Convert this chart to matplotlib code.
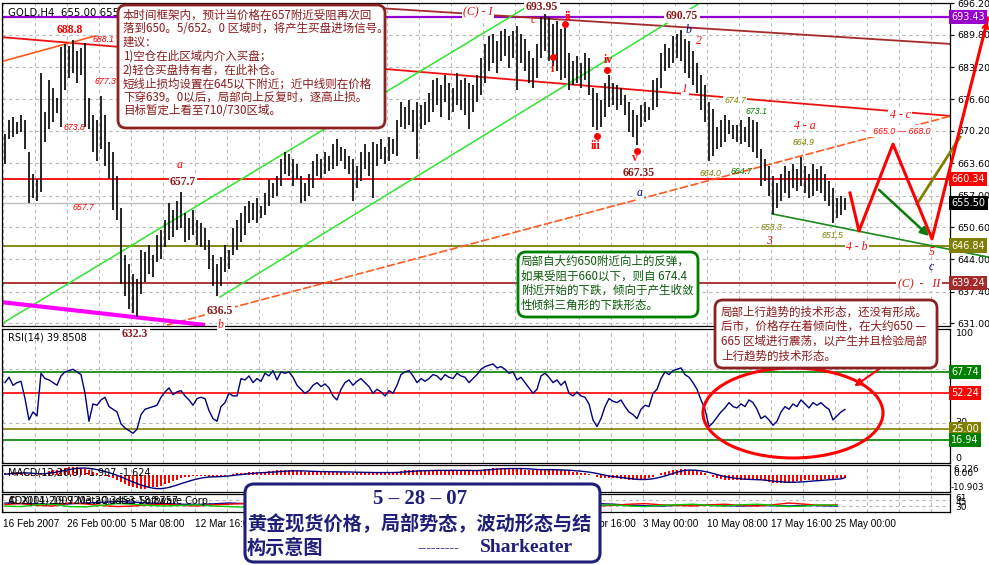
import numpy as np
import matplotlib
matplotlib.use("Agg")
import matplotlib.pyplot as plt
from matplotlib.patches import FancyBboxPatch, Ellipse
from matplotlib.transforms import IdentityTransform

# ---------------- data ----------------
# GOLD H4 bars: highs and lows, one value per bar
bar_high = [
    669.5, 672.5, 673.0, 672.0, 673.5, 672.5, 666.0, 661.5, 660.5, 682.0,
    674.0, 680.5, 679.0, 677.0, 687.3, 688.0, 687.5, 688.8, 686.5, 687.0,
    688.1, 677.0, 673.5, 672.5, 677.3, 673.5, 668.0, 666.0, 661.0, 654.5,
    645.0, 643.0, 641.0, 640.0, 646.0, 645.5, 647.0, 645.0, 649.0, 650.0,
    652.0, 655.5, 654.0, 656.0, 657.7, 653.5, 652.5, 654.0, 652.0, 651.5,
    650.5, 648.0, 645.0, 643.0, 644.5, 647.0, 646.0, 650.5, 652.0, 653.5,
    655.0, 656.0, 655.5, 656.5, 655.0, 657.5, 660.5, 659.5, 661.0, 664.5,
    666.0, 665.5, 664.5, 663.5, 661.0, 659.5, 661.5, 664.0, 665.5, 664.5,
    666.0, 665.0, 667.5, 668.5, 667.0, 666.5, 665.0, 664.5, 663.0, 666.0,
    667.5, 666.0, 668.0, 667.5, 668.5, 667.0, 669.0, 668.5, 672.5, 676.0,
    675.0, 676.5, 674.5, 676.0, 675.5, 676.0, 678.0, 680.5, 681.0, 679.5,
    681.5, 680.0, 679.0, 682.0, 680.5, 681.0, 680.0, 679.5, 681.5, 685.0,
    688.0, 689.5, 690.0, 688.5, 690.5, 691.0, 689.5, 690.5, 691.5, 690.0,
    689.0, 686.5, 685.0, 688.0, 693.5, 693.95, 693.5, 692.0, 692.5, 691.0,
    692.0, 686.0, 684.5, 685.5, 684.0, 686.0, 685.0, 679.0, 678.0, 676.5,
    680.0, 681.5, 680.0, 679.5, 679.0, 677.5, 676.0, 674.5, 673.5, 675.5,
    676.0, 675.0, 680.5, 681.0, 686.0, 688.0, 687.0, 689.5, 690.0, 690.75,
    689.0, 688.5, 686.5, 684.0, 681.5, 679.5, 676.0, 674.7, 671.0, 672.5,
    673.5, 672.5, 671.5, 671.5, 672.5, 671.0, 673.1, 672.5, 672.0, 666.5,
    664.5, 663.0, 661.0, 659.5, 661.5, 663.0, 662.0, 663.5, 662.5, 664.9,
    663.0, 661.5, 663.5, 662.5, 663.0, 661.5, 660.0, 658.5, 656.5, 657.0,
    656.5,
]
bar_low = [
    663.5, 668.5, 669.0, 669.5, 670.0, 666.5, 655.5, 656.5, 656.0, 657.7,
    668.0, 670.5, 672.0, 673.8, 671.0, 678.5, 681.0, 682.0, 680.0, 681.5,
    671.0, 670.5, 666.0, 664.0, 666.5, 663.0, 660.5, 654.0, 652.0, 639.0,
    636.5, 634.0, 633.0, 632.3, 637.0, 639.5, 641.0, 640.5, 643.5, 644.0,
    646.5, 648.0, 648.5, 650.0, 650.5, 647.5, 648.0, 649.0, 647.0, 646.5,
    646.0, 642.0, 638.5, 636.5, 638.5, 641.5, 642.0, 645.0, 646.0, 647.5,
    649.0, 651.5, 652.0, 651.5, 652.5, 653.0, 655.0, 656.5, 657.0, 659.0,
    661.5, 661.0, 659.0, 660.5, 655.5, 656.0, 657.0, 658.5, 661.0, 660.5,
    661.5, 662.0, 662.5, 663.0, 664.0, 662.5, 661.5, 656.0, 658.5, 660.0,
    662.5, 661.0, 656.5, 663.0, 664.5, 663.5, 664.0, 665.5, 665.0, 671.0,
    670.5, 671.5, 670.0, 664.5, 670.5, 671.5, 672.0, 674.0, 675.5, 673.0,
    676.0, 672.5, 674.0, 675.5, 674.5, 673.5, 670.5, 674.0, 676.0, 677.5,
    680.0, 682.5, 684.0, 682.0, 684.5, 685.5, 683.0, 685.0, 678.5, 684.0,
    682.5, 680.0, 679.0, 681.0, 685.0, 686.5, 684.5, 683.5, 682.5, 680.5,
    681.0, 678.5, 679.5, 680.0, 679.0, 680.5, 677.5, 671.0, 670.3, 671.0,
    673.0, 675.0, 675.5, 674.5, 675.5, 673.5, 670.0, 669.0, 667.35, 671.0,
    672.0, 672.5, 674.5, 675.0, 679.0, 682.5, 683.0, 684.0, 685.0, 684.5,
    682.0, 681.0, 679.5, 678.0, 674.5, 672.0, 664.0, 665.0, 666.5, 667.0,
    668.0, 669.5, 668.5, 668.0, 667.5, 668.0, 667.0, 666.0, 664.7, 659.0,
    660.0, 657.0, 653.3, 654.5, 656.0, 657.5, 656.5, 658.5, 658.0, 659.0,
    657.5, 656.5, 657.0, 658.0, 657.5, 656.0, 655.0, 651.5, 652.5, 653.0,
    654.0,
]
rsi14 = [
    60, 64, 58, 60, 61, 48, 32, 38, 35, 67,
    63, 62, 60, 58, 65, 68, 69, 70, 68, 66,
    52, 31, 44, 43, 47, 49, 42, 40, 38, 29,
    26, 24, 22, 25, 36, 40, 41, 42, 43, 49,
    53, 56, 51, 53, 54, 50, 47, 43, 48, 49,
    48, 39, 33, 31, 42, 45, 52, 50, 50, 63,
    62, 65, 60, 63, 61, 67, 65, 69, 62, 68,
    67, 68, 64, 58, 55, 52, 54, 58, 60, 57,
    59, 56, 50, 47, 55, 60, 62, 58, 61, 63,
    60, 57, 52, 55, 53, 50, 54, 52, 58, 66,
    68, 69, 65, 60, 63, 61, 63, 66, 65, 62,
    66, 64, 63, 67, 65, 64, 60, 63, 66, 70,
    72, 73, 74, 71, 72, 70, 67, 68, 62, 64,
    60, 56, 52, 55, 65, 67, 64, 60, 62, 58,
    61, 52, 50, 53, 50, 49, 44, 32, 27, 33,
    42, 48, 46, 45, 47, 42, 38, 36, 33, 40,
    43, 42, 52, 55, 63, 68, 66, 69, 70, 71,
    66, 64, 60, 55, 47, 40, 27, 30, 34, 38,
    41, 45, 42, 41, 44, 42, 47, 45, 40, 33,
    35, 32, 28, 31, 38, 42, 40, 44, 42, 47,
    44, 41, 45, 43, 45, 42, 40, 32, 35, 38, 39.85,
]
macd_main = [
    1, 1.5, 2, 2, 2, 1.5, 0.5, 0, -0.5, 0.5,
    1.5, 2.5, 3, 3.5, 4, 4.5, 5, 5, 5, 4.5,
    4, 3, 2, 1, 0, -0.5, -1, -2, -3, -4.5,
    -6, -7, -8, -8.5, -9, -9, -8.5, -8, -7.5, -7,
    -6, -5, -4, -3, -2, -1.5, -1, -0.5, -0.5, -0.5,
    -0.5, -1, -1.5, -1.5, -1, -0.5, 0, 0.5, 1, 1.5,
    1.5, 2, 2, 2, 2, 2, 2.5, 2.5, 3, 3,
    3, 3, 3, 2.5, 2.5, 2, 2, 2, 2, 2,
    2, 2, 2, 2, 2, 2, 1.5, 1.5, 1.5, 1.5,
    1.5, 1.5, 1.5, 1.5, 1.5, 1.5, 1.5, 1.5, 2, 2.5,
    3, 3, 3, 3, 3, 3, 3, 3, 3, 3,
    3, 3, 3, 3, 3, 3, 2.5, 2.5, 3, 3.5,
    4, 4, 4.5, 4.5, 4.5, 4.5, 4.5, 4, 4, 4,
    3.5, 3, 3, 3, 3.5, 3.5, 3.5, 3.5, 3, 3,
    3, 2.5, 2, 2, 1.5, 1, 0.5, 0, -1, -2,
    -2, -2, -2, -2, -2.5, -2.5, -3, -3, -3.5, -3,
    -2.5, -2, -1, 0, 1, 2, 2.5, 3, 3.5, 4,
    4, 3.5, 3, 2.5, 2, 1, 0, -1, -2, -2.5,
    -3, -3, -3, -3, -3, -3, -3, -3, -3, -3.5,
    -4, -4.5, -5, -5, -5, -5, -4.5, -4.5, -4, -4,
    -3.5, -3.5, -3, -3, -3, -2.5, -2.5, -2.5, -2, -2, -1.907,
]
macd_signal = [
    0.5, 0.8, 1.0, 1.2, 1.3, 1.4, 1.3, 1.1, 0.9, 0.8,
    0.9, 1.2, 1.5, 2.0, 2.5, 3.0, 3.5, 4.0, 4.3, 4.5,
    4.5, 4.3, 4.0, 3.5, 3.0, 2.3, 1.5, 0.7, -0.2, -1.2,
    -2.3, -3.4, -4.5, -5.5, -6.5, -7.3, -8.0, -8.5, -8.8, -8.8,
    -8.5, -8.0, -7.3, -6.5, -5.6, -4.8, -4.0, -3.2, -2.6, -2.0,
    -1.6, -1.3, -1.2, -1.1, -1.0, -0.8, -0.6, -0.3, 0.0, 0.3,
    0.6, 0.9, 1.1, 1.3, 1.5, 1.6, 1.8, 1.9, 2.1, 2.3,
    2.5, 2.6, 2.7, 2.7, 2.7, 2.6, 2.5, 2.4, 2.3, 2.2,
    2.2, 2.1, 2.1, 2.1, 2.0, 2.0, 2.0, 1.9, 1.8, 1.8,
    1.7, 1.7, 1.6, 1.6, 1.6, 1.6, 1.6, 1.6, 1.7, 1.8,
    2.0, 2.2, 2.4, 2.6, 2.7, 2.8, 2.9, 2.9, 3.0, 3.0,
    3.0, 3.0, 3.0, 3.0, 3.0, 3.0, 3.0, 2.9, 2.9, 3.0,
    3.2, 3.4, 3.6, 3.8, 4.0, 4.1, 4.2, 4.2, 4.2, 4.2,
    4.1, 4.0, 3.8, 3.6, 3.5, 3.5, 3.5, 3.5, 3.4, 3.3,
    3.2, 3.1, 2.9, 2.7, 2.5, 2.2, 1.9, 1.5, 1.0, 0.4,
    -0.1, -0.6, -1.0, -1.3, -1.6, -1.9, -2.2, -2.5, -2.8, -2.9,
    -2.9, -2.7, -2.4, -1.9, -1.3, -0.6, 0.2, 1.0, 1.8, 2.5,
    3.0, 3.2, 3.2, 3.0, 2.7, 2.3, 1.7, 1.0, 0.3, -0.4,
    -1.0, -1.5, -1.9, -2.2, -2.5, -2.7, -2.8, -2.9, -3.0, -3.1,
    -3.3, -3.6, -3.9, -4.2, -4.4, -4.6, -4.7, -4.7, -4.6, -4.5,
    -4.3, -4.1, -3.9, -3.7, -3.5, -3.3, -3.1, -2.9, -2.7, -2.5, -1.624,
]
# ADX block, one reading every fourth bar
adx_step = 4
adx_main = [30, 28, 27, 25, 27, 30, 32, 35, 33, 30, 28, 26, 25, 27, 30, 28, 26, 24, 22, 21,
            22, 23, 25, 24, 22, 21, 20, 22, 24, 28, 32, 30, 27, 25, 22, 20, 24, 28, 26, 23,
            21, 20, 22, 24, 22, 21, 20, 22, 21, 20, 22, 21, 20]
plus_di = [25, 28, 22, 20, 30, 27, 22, 18, 20, 24, 26, 22, 20, 24, 26, 28, 25, 22, 20, 24,
           26, 28, 24, 22, 20, 18, 22, 26, 28, 24, 20, 18, 22, 26, 30, 28, 24, 20, 22, 26,
           28, 24, 22, 20, 24, 26, 22, 20, 24, 30, 26, 22, 24]
minus_di = [20, 18, 24, 26, 18, 17, 22, 28, 26, 22, 20, 22, 24, 20, 18, 16, 18, 20, 22, 18,
            17, 16, 18, 20, 22, 24, 22, 18, 16, 14, 16, 20, 22, 20, 16, 18, 20, 22, 24, 20,
            18, 22, 24, 26, 22, 20, 24, 26, 22, 18, 20, 24, 22]

# time scale: one label every 16 bars; the slots under the title box are left blank
time_slots = [0, 1, 2, 3, 9, 10, 11, 12, 13]
time_labels = ["16 Feb 2007", "26 Feb 00:00", "5 Mar 08:00", "12 Mar 16:00",
               "25 Apr 16:00", "3 May 00:00", "10 May 08:00", "17 May 16:00", "25 May 00:00"]
price_ticks = [696.20, 689.80, 683.20, 676.60, 670.20, 663.60, 657.00, 650.60, 644.00, 637.40, 631.00]

# horizontal price levels
level_purple = 693.43
level_red = 660.34
level_bid = 655.50
level_olive = 646.84
level_brown = 639.24
rsi_levels = [(67.74, "#008000"), (52.24, "#ff0000"), (25.00, "#808000"), (16.94, "#008000")]

# trend lines and projections, anchored as (bar, price)
channel_top = [(71.25, 696.36), (236.5, 687.91)]
red_fan = [(-1.25, 689.33), (236.5, 673.24)]
orange_low = [(40.5, 630.65), (236.5, 673.24)]
orange_top = [(-1.25, 684.24), (22.5, 689.54)]
green_ch1 = [(-0.5, 631.06), (131.25, 695.85)]
green_ch2 = [(53.75, 636.36), (173.75, 696.26)]
magenta_ln = [(-0.75, 635.3), (50.0, 630.65)]
triangle_low = [(191.75, 653.3), (245.75, 644.5)]
olive_path = [(228.0, 655.31), (238.75, 668.96)]
zigzag = [(211.25, 657.55), (213.5, 649.8), (222.0, 667.5), (231.75, 648.2), (245.75, 693.2)]
green_arrow = [(218.0, 658.57), (231.5, 648.4)]
wave_dots = [(140.0, 692.0), (137.0, 685.3), (150.5, 682.6), (148.0, 669.2), (158.0, 666.1)]

# ---------------- figure layout ----------------
W, H = 989, 565
fig = plt.figure(figsize=(W / 100, H / 100), dpi=100)
fig.patch.set_facecolor("white")
plt.rcParams["font.family"] = ["DejaVu Sans"]
CJK = ["Noto Sans CJK SC", "DejaVu Sans"]
SERIF = ["Liberation Serif", "DejaVu Serif"]
SANS = ["Liberation Sans", "DejaVu Sans"]
DARKRED = "#8b1a1a"
GRID = dict(color="#b8b8b8", lw=0.8, ls=(0, (3, 3)), zorder=0)

XL = (-0.75, 236.25)


def panel(x0, y0, x1, y1):
    ax = fig.add_axes([x0 / W, 1 - y1 / H, (x1 - x0) / W, (y1 - y0) / H])
    ax.set_xlim(*XL)
    ax.set_facecolor("white")
    for s in ax.spines.values():
        s.set_color("black")
        s.set_linewidth(0.9)
    ax.tick_params(axis="x", bottom=False, labelbottom=False)
    ax.tick_params(axis="y", left=False, labelleft=False, right=False, labelright=False)
    for k in range(30):
        ax.axvline(-0.5 + 8 * k, **GRID)
    return ax


def fline(ax, pts, **kw):
    xs, ys = zip(*pts)
    ax.plot(xs, ys, **kw)


ax = panel(2, 2.5, 950, 326)
ax_rsi = panel(2, 329, 950, 463)
ax_macd = panel(2, 465, 950, 492)
ax_adx = panel(2, 494, 950, 512)

# ---------------- main price panel ----------------
ax.set_ylim(630.45, 696.36)
for p in price_ticks:
    ax.axhline(p, **GRID)
idx = np.arange(len(bar_high))
ax.vlines(idx, bar_low, bar_high, color="black", lw=1.2, zorder=3)

ax.axhline(level_purple, color="#9400d3", lw=1.6, zorder=2)
ax.axhline(level_red, color="#ff0000", lw=1.3, zorder=2)
ax.axhline(level_bid, color="#c0c0c0", lw=1.0, zorder=1)
ax.axhline(level_olive, color="#808000", lw=1.3, zorder=2)
ax.axhline(level_brown, color="#a52a2a", lw=1.3, zorder=2)

fline(ax, channel_top, color="#a52a2a", lw=1.3, zorder=2)
fline(ax, red_fan, color="#ee1111", lw=1.3, zorder=2)
fline(ax, orange_low, color="#ff5a1f", lw=1.2, ls=(0, (5, 1.5)), zorder=2)
fline(ax, orange_top, color="#ff5a1f", lw=1.2, zorder=2)
fline(ax, green_ch1, color="#2ee62e", lw=1.1, zorder=2)
fline(ax, green_ch2, color="#2ee62e", lw=1.1, zorder=2)
fline(ax, magenta_ln, color="#ff00ff", lw=3.0, zorder=2, solid_capstyle="butt")
fline(ax, triangle_low, color="#1a8a1a", lw=1.2, zorder=2, clip_on=False)
fline(ax, olive_path, color="#808000", lw=2.0, zorder=4, clip_on=False)
fline(ax, zigzag, color="#ff0000", lw=2.2, zorder=5, clip_on=False)
ax.annotate("", xy=zigzag[-1], xytext=((zigzag[-2][0] + 9 * zigzag[-1][0]) / 10,
                                       (zigzag[-2][1] + 9 * zigzag[-1][1]) / 10),
            arrowprops=dict(arrowstyle="->", color="#ff0000", lw=1.6, mutation_scale=10),
            annotation_clip=False, zorder=5)
ax.annotate("", xy=green_arrow[1], xytext=green_arrow[0],
            arrowprops=dict(arrowstyle="-|>", color="#0a7a0a", lw=1.8, mutation_scale=12),
            zorder=5)
dx, dy = zip(*wave_dots)
ax.plot(dx, dy, "o", color="#ff0000", ms=4, zorder=6)

ax.yaxis.tick_right()
ax.set_yticks(price_ticks, [f"{v:.2f}" for v in price_ticks])
ax.tick_params(axis="y", right=True, labelright=True, length=3, width=0.8, pad=2,
               labelsize=6.8, direction="out")
for val, col in [(level_purple, "#9900cc"), (level_red, "#ff0000"), (level_bid, "#000000"),
                 (level_olive, "#808000"), (level_brown, "#a52a2a")]:
    ax.text(1.0015, val, f"{val:.2f}", transform=ax.get_yaxis_transform(), color="white",
            fontsize=7, ha="left", va="center", zorder=12, clip_on=False,
            bbox=dict(boxstyle="square,pad=0.22", fc=col, ec="none"))

# ---------------- RSI panel ----------------
ax_rsi.set_ylim(-0.3, 100.2)
for g in (70, 30):
    ax_rsi.axhline(g, **GRID)
for val, col in rsi_levels:
    ax_rsi.axhline(val, color=col, lw=1.2, zorder=2)
ax_rsi.plot(np.arange(len(rsi14)), rsi14, color="#000080", lw=1.0, zorder=3)
yt = ax_rsi.get_yaxis_transform()
for v, s, va in [(100, "100", "top"), (70, "70", "center"), (30, "30", "center"), (0, "0", "bottom")]:
    ax_rsi.text(1.006, v, s, transform=yt, fontsize=6.8, ha="left", va=va, clip_on=False)
for val, col in rsi_levels:
    ax_rsi.text(1.0015, val, f"{val:.2f}", transform=yt, color="white", fontsize=7,
                ha="left", va="center", zorder=12, clip_on=False,
                bbox=dict(boxstyle="square,pad=0.22", fc=col, ec="none"))
ax_rsi.text(0.006, 0.94, "RSI(14) 39.8508", transform=ax_rsi.transAxes, fontsize=7,
            ha="left", va="center")
ax_rsi.add_patch(Ellipse((197.0, 37.2), width=45, height=67.5, fill=False, ec="#ff0000",
                         lw=2.2, zorder=6, clip_on=False))
ax_rsi.annotate("", xy=(211.75, 56.0), xytext=(222.5, 78.5),
                arrowprops=dict(arrowstyle="-|>", color="#ff0000", lw=1.5, mutation_scale=11),
                annotation_clip=False, zorder=6)

# ---------------- MACD panel ----------------
ax_macd.set_ylim(-11.0, 6.5)
ax_macd.bar(np.arange(len(macd_main)), macd_main, width=0.45, color="#ff0000", zorder=2)
ax_macd.plot(np.arange(len(macd_signal)), macd_signal, color="#000080", lw=1.0, zorder=3)
mt = ax_macd.get_yaxis_transform()
ax_macd.text(1.004, 6.5, "6.226", transform=mt, fontsize=6.5, ha="left", va="top", clip_on=False)
ax_macd.text(1.004, 4.0, "0.00", transform=mt, fontsize=6.5, ha="left", va="top", clip_on=False)
ax_macd.text(1.001, -11.0, "-10.903", transform=mt, fontsize=6.3, ha="left", va="bottom", clip_on=False)
ax_macd.text(0.006, 0.72, "MACD(12,26,9) -1.907 -1.624", transform=ax_macd.transAxes,
             fontsize=7, ha="left", va="center")

# ---------------- ADX panel ----------------
ax_adx.set_ylim(0, 60)
for g in (20, 40):
    ax_adx.axhline(g, **GRID)
ax_pos = np.arange(len(adx_main)) * adx_step
ax_adx.plot(ax_pos, adx_main, color="#0000a0", lw=1.0, zorder=3)
ax_adx.plot(ax_pos, plus_di, color="#ff0000", lw=1.0, zorder=3)
ax_adx.plot(ax_pos, minus_di, color="#00cc00", lw=1.0, zorder=3)
at = ax_adx.get_yaxis_transform()
ax_adx.text(1.006, 60, "61", transform=at, fontsize=6.5, ha="left", va="top", clip_on=False)
ax_adx.text(1.006, 33, "45", transform=at, fontsize=6.5, ha="left", va="center", clip_on=False)
ax_adx.text(1.006, 14, "30", transform=at, fontsize=6.5, ha="left", va="center", clip_on=False)
ax_adx.text(0.006, 0.62, "ADX(14) 19.9203 20.3453 18.8757", transform=ax_adx.transAxes,
            fontsize=7, ha="left", va="center")
ax_adx.text(0.006, 0.62, "© 2001-2007 MetaQuotes Software Corp.", transform=ax_adx.transAxes,
            fontsize=7, ha="left", va="center")
label_pos = [-0.5 + 16 * k for k in time_slots]
ax_adx.set_xticks(label_pos, time_labels)
ax_adx.tick_params(axis="x", bottom=False, labelbottom=True, length=0, pad=5)
for t in ax_adx.get_xticklabels():
    t.set_ha("left")
    t.set_fontsize(7.2)
    t.set_family(SANS)


# ---------------- annotations (pixel placed) ----------------
def ptext(x, y, s, bg=False, z=15, **kw):
    kw.setdefault("ha", "center")
    kw.setdefault("va", "center")
    if bg:
        kw["bbox"] = dict(boxstyle="square,pad=0.12", fc="white", ec="none")
    fig.text(x / W, 1 - y / H, s, zorder=z, **kw)


ptext(8, 13, "GOLD,H4  655.00 655.60 654.90 655.50", ha="left", fontsize=7.3, z=4)

bold_dr = dict(color=DARKRED, fontsize=8.5, fontweight="bold", family=SERIF)
it_num = dict(fontsize=6.3, style="italic", family=SANS)
it_wave = dict(fontsize=8.5, style="italic", family=SERIF)
roman = dict(color="#ff0000", fontsize=8.5, fontweight="bold", family=SERIF)

ptext(478, 12, "(C) - I", bg=True, color="#dd1111", **it_wave)
ptext(542, 7, "693.95", bg=True, **bold_dr)
ptext(533, 20, "c", color="#ff0000", **it_wave)
ptext(568, 17, "ii", **roman)
ptext(552, 69, "i", **roman)
ptext(608, 60, "iv", **roman)
ptext(596, 146, "iii", **roman)
ptext(635, 158, "v", **roman)
ptext(682, 16, "690.75", bg=True, **bold_dr)
ptext(688, 30, "b", color="#000080", **it_wave)
ptext(699, 41, "2", color="#ff0000", **it_wave)
ptext(685, 89, "1", bg=True, color="#ff0000", **it_wave)
ptext(735, 100, "674.7", bg=True, color="#808000", **it_num)
ptext(756, 111, "673.1", color="#008000", **it_num)
ptext(639, 173, "667.35", **bold_dr)
ptext(640, 193, "a", bg=True, color="#000080", **it_wave)
ptext(710, 173, "664.0", color="#808000", **it_num)
ptext(741, 172, "664.7", color="#008000", **it_num)
ptext(771, 228, "653.3", color="#808000", **it_num)
ptext(769, 241, "3", color="#ff0000", **it_wave)
ptext(805, 126, "4 - a", color="#ff0000", **it_wave)
ptext(803, 142, "664.9", color="#808000", **it_num)
ptext(832, 236, "651.5", color="#808000", **it_num)
ptext(857, 247, "4 - b", bg=True, color="#ff0000", **it_wave)
ptext(932, 252, "5", color="#ff0000", **it_wave)
ptext(931, 267, "c", color="#000080", **it_wave)
ptext(919, 284, "(C)  -   II", bg=True, color="#dd1111", **it_wave)
ptext(900, 115, "4 - c", bg=True, color="#ff0000", **it_wave)
ptext(896, 131, "~   665.0 — 668.0", bg=True, color="#ff0000", **it_num)
ptext(70, 30, "688.8", color="#ff0000", fontsize=8.5, fontweight="bold", family=SERIF)
ptext(103, 39, "688.1", color="#ff0000", **it_num)
ptext(105, 82, "677.3", color="#ff0000", **it_num)
ptext(74, 127, "673.8", color="#ff0000", **it_num)
ptext(83, 207, "657.7", color="#ff0000", **it_num)
ptext(180, 165, "a", color="#ff0000", **it_wave)
ptext(183, 182, "657.7", bg=True, **bold_dr)
ptext(220, 311, "636.5", bg=True, **bold_dr)
ptext(135, 334, "632.3", bg=True, **bold_dr)
ptext(221, 325, "b", bg=True, color="#ff0000", **it_wave)


# ---------------- text boxes ----------------
def rbox(x0, y0, x1, y1, ec, lw=2.0, r=8):
    fig.add_artist(FancyBboxPatch((x0, H - y1), x1 - x0, y1 - y0,
                                  boxstyle=f"round,pad=0,rounding_size={r}",
                                  transform=IdentityTransform(), fc="white", ec=ec,
                                  lw=lw, zorder=20))


def rows(x, y0, dy, lines, color, size=8.3, **kw):
    for k, s in enumerate(lines):
        fig.text(x / W, 1 - (y0 + k * dy) / H, s, ha="left", va="center", color=color,
                 fontsize=size, family=CJK, zorder=21, **kw)


rbox(118, 5, 385, 128, "#8b2323")
rows(123, 15, 13.7, [
    "本时间框架内，预计当价格在657附近受阻再次回",
    "落到650。5/652。0 区域时，将产生买盘进场信号。",
    "建议：",
    "1)空仓在此区域内介入买盘；",
    "2)轻仓买盘持有者，在此补仓。",
    "短线止损均设置在645以下附近；近中线则在价格",
    "下穿639。0以后，局部向上反复时，逐高止损。",
    "目标暂定上看至710/730区域。",
], "#8b1a1a")

rbox(518, 252, 698, 317, "#008000")
rows(521, 261, 14.8, [
    "局部自大约650附近向上的反弹，",
    "如果受阻于660以下，则自 674.4",
    "附近开始的下跌，倾向于产生收敛",
    "性倾斜三角形的下跌形态。",
], "#0a5a0a")

rbox(715, 300, 937, 368, "#8b2323")
rows(721, 312, 14.6, [
    "局部上行趋势的技术形态，还没有形成。",
    "后市，价格存在着倾向性，在大约650 —",
    "665 区域进行震荡，以产生并且检验局部",
    "上行趋势的技术形态。",
], "#8b1a1a")

NAVY = "#1f1f7a"
rbox(245, 484, 600, 562, NAVY, lw=2.2, r=9)
fig.text(420 / W, 1 - 499 / H, "5 – 28 – 07", ha="center", va="center", color=NAVY,
         fontsize=15, fontweight="bold", family=SERIF, zorder=21)
rows(247, 523, 25, ["黄金现货价格，局部势态，波动形态与结", "构示意图"], NAVY, size=13.8,
     fontweight="bold")
fig.text(418 / W, 1 - 549 / H, "---------", ha="left", va="center", color=NAVY,
         fontsize=10, fontweight="bold", family=SERIF, zorder=21)
fig.text(480 / W, 1 - 548 / H, "Sharkeater", ha="left", va="center", color=NAVY,
         fontsize=14, fontweight="bold", family=SERIF, zorder=21)

fig.savefig("out.png", dpi=100)
